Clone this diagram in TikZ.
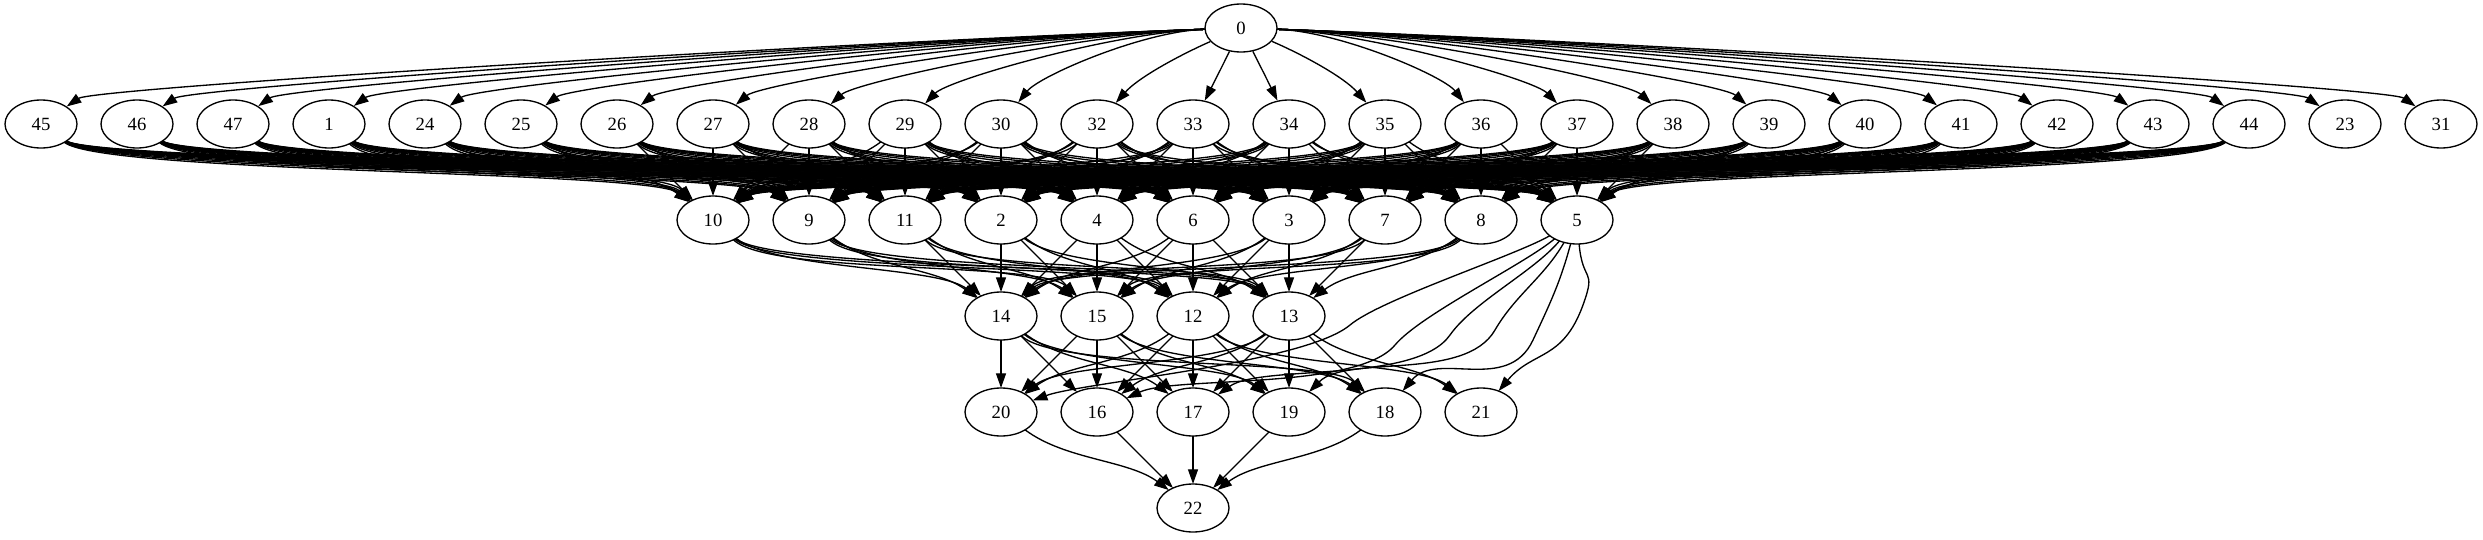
\documentclass[tikz,border=0pt]{standalone}
\usepackage{fontspec}
\setmainfont{Liberation Serif}
\usetikzlibrary{%
  arrows.meta,%
  shapes.geometric%
}
\tikzset{>={Triangle[length=11pt,width=7.5pt]}}
\tikzset{task/.style = {draw, ellipse, line width=1pt, minimum width=54pt,
    minimum height=36pt, inner sep=0pt, font=\fontsize{14}{17}\selectfont},
  link/.style = {->, line width=1pt}}
% point on the border of node #2 in direction #3
\newcommand{\bordpt}[3]{%
  \pgfmathsetmacro\rr{1/sqrt((cos(#3)/27)^2+(sin(#3)/18)^2)}%
  \coordinate (#1) at ([shift={(#3:\rr pt)}]#2.center);}
% edge from 0 down to the first row, #2 = column offset
\newcommand{\topedge}[2]{%
  \pgfmathsetmacro\dk{#2}%
  \pgfmathsetmacro\chrd{atan2(-96,96*\dk)}%
  \pgfmathsetmacro\sgn{(\dk>0)-(\dk<0)}%
  \pgfmathsetmacro\bnd{10*min(abs(\dk)-0.5,2)}%
  \pgfmathsetmacro\aout{\sgn>0 ? min(\chrd+\bnd,-2) : max(\chrd-\bnd,-178)}%
  \pgfmathsetmacro\ain{\chrd+180-\sgn*1.5*\bnd}%
  \draw[link] (n0) to[out=\aout,in=\ain,out looseness=0.8,in distance=25pt] (n#1);}
% edge between two neighbouring rows, #3 = column offset
\newcommand{\dagedge}[3]{%
  \pgfmathsetmacro\dk{#3}%
  \pgfmathsetmacro\chrd{atan2(-96,96*\dk)}%
  \pgfmathsetmacro\sgn{(\dk>0)-(\dk<0)}%
  \pgfmathsetmacro\bnd{30*min(max(abs(\dk)-1,0)/3,1)}%
  \pgfmathsetmacro\aout{\chrd-\sgn*\bnd}%
  \pgfmathsetmacro\ain{\chrd+180-\sgn*\bnd}%
  \bordpt{ea}{n#1}{\aout}\bordpt{eb}{n#2}{\ain}%
  \draw[link] (ea) .. controls ([shift={(\aout:38pt)}]ea)
    and ([shift={(\ain:38pt)}]eb) .. (eb);}

\begin{document}
\begin{tikzpicture}[x=0.75pt,y=-0.75pt]
  \useasboundingbox (0,0) rectangle (2483,539);
  % nodes
  \node[task] (n0) at (1241,28) {0};
  \foreach \n [count=\i from 0] in {45,46,47,1,24,25,26,27,28,29,30,32,33,34,35,36,37,38,39,40,41,42,43,44,23,31}
    \node[task] (n\n) at (41+96*\i,124) {\n};
  \foreach \n [count=\i from 7] in {10,9,11,2,4,6,3,7,8,5}
    \node[task] (n\n) at (41+96*\i,220) {\n};
  \foreach \n [count=\i from 10] in {14,15,12,13}
    \node[task] (n\n) at (41+96*\i,316) {\n};
  \foreach \n [count=\i from 10] in {20,16,17,19,18,21}
    \node[task] (n\n) at (41+96*\i,412) {\n};
  \node[task] (n22) at (1193,508) {22};
  % edges
  \foreach \t [count=\i from 0] in {45,46,47,1,24,25,26,27,28,29,30,32,33,34,35,36,37,38,39,40,41,42,43,44,23,31}
    \topedge{\t}{\i-12.5};
  \foreach \s [count=\i from 0] in {45,46,47,1,24,25,26,27,28,29,30,32,33,34,35,36,37,38,39,40,41,42,43,44}
    \foreach \t [count=\j from 7] in {10,9,11,2,4,6,3,7,8,5}
      \dagedge{\s}{\t}{\j-\i};
  \foreach \s [count=\i from 7] in {10,9,11,2,4,6,3,7,8}
    \foreach \t [count=\j from 10] in {14,15,12,13}
      \dagedge{\s}{\t}{\j-\i};
  \foreach \s [count=\i from 10] in {14,15,12,13}
    \foreach \t [count=\j from 10] in {20,16,17,19,18}
      \dagedge{\s}{\t}{\j-\i};
  \dagedge{12}{21}{3};
  \dagedge{13}{21}{2};
  \foreach \s [count=\i from 10] in {20,16,17,19,18}
    \dagedge{\s}{22}{12-\i};
  % 5 skips a row
  \foreach \t/\wpx/\wpy/\aob/\wdir/\aib in {20/1350/325/-150/-140/20,16/1395/345/-140/-130/25,
      17/1450/335/-130/-125/35,19/1495/330/-120/-120/45,18/1533/340/-105/-115/50,21/1583/305/-85/-110/50}{
    \pgfmathsetmacro\wback{\wdir+180}
    \coordinate (w\t) at (\wpx,\wpy);
    \bordpt{ea}{n5}{\aob}\bordpt{eb}{n\t}{\aib}
    \draw[link] (ea) .. controls ([shift={(\aob:30pt)}]ea) and ([shift={(\wback:30pt)}]w\t) .. (w\t)
      .. controls ([shift={(\wdir:45pt)}]w\t) and ([shift={(\aib:40pt)}]eb) .. (eb);
  }
\end{tikzpicture}
\end{document}
